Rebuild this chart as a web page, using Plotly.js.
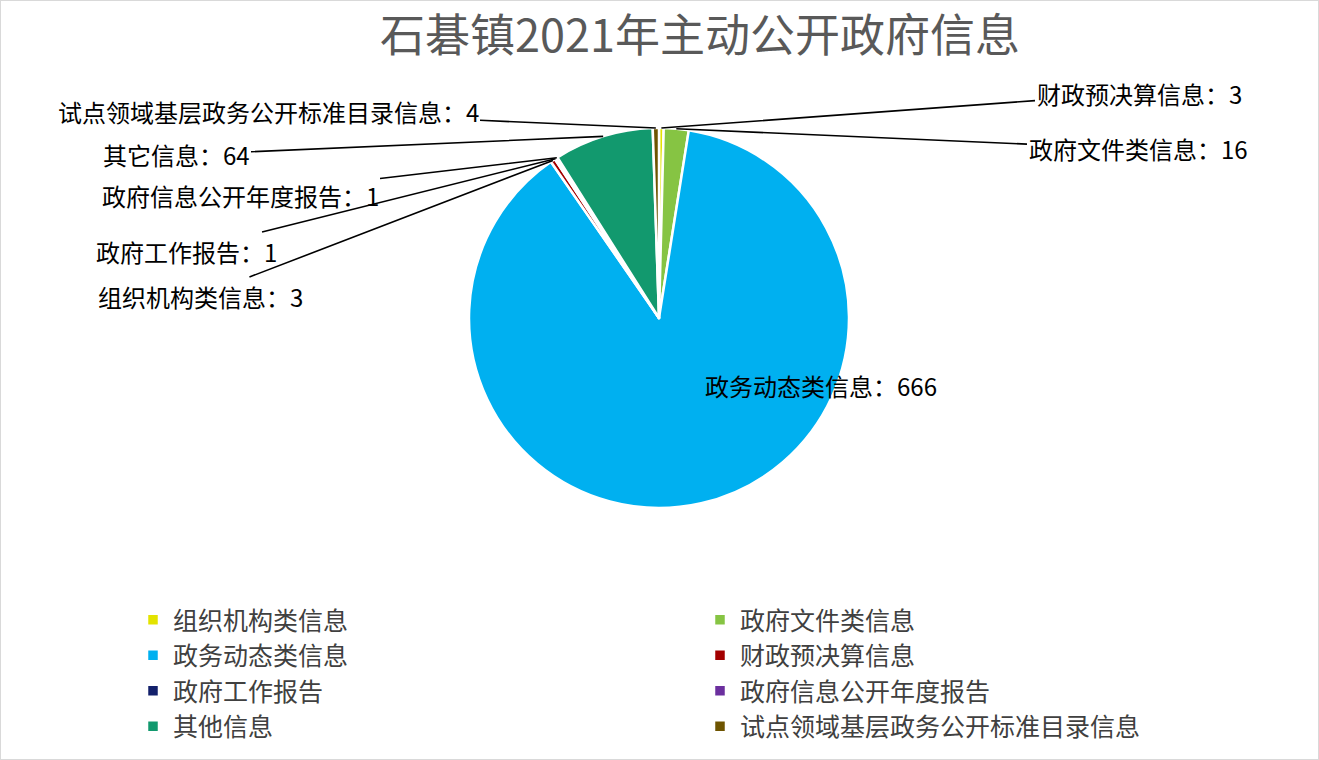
<!DOCTYPE html>
<html>
<head>
<meta charset="utf-8">
<script src="https://cdn.plot.ly/plotly-3.0.1.min.js"></script>
<style>
  html, body { margin: 0; padding: 0; background: #fff; }
  #chart_area { width: 1319px; height: 760px; }
</style>
</head>
<body>
<div id="chart_area"></div>
<script>
// slice data, in the order the pie is drawn (clockwise from 12 o'clock)
var categories = ['组织机构类信息', '政府文件类信息', '政务动态类信息', '财政预决算信息',
                  '政府工作报告', '政府信息公开年度报告', '其他信息', '试点领域基层政务公开标准目录信息'];
var counts = [3, 16, 666, 3, 1, 1, 64, 4];
// data label text as it stands on the chart, one per slice
var labelNames = ['财政预决算信息', '政府文件类信息', '政务动态类信息', '组织机构类信息',
                  '政府工作报告', '政府信息公开年度报告', '其它信息', '试点领域基层政务公开标准目录信息'];
var sliceColors = ['#e3e300', '#86c443', '#00b0f0', '#a30000', '#13206b', '#6b2f9e', '#12996e', '#6e5400'];

var W = 1319, H = 760;
var cx = 659, cy = 318, r = 190;

// where each label text sits (pixels)
var labelPos = [[1139, 93], [1138, 149], [821, 385], [200, 296], [186, 251], [240, 195], [176, 155], [268, 111]];

var total = counts.reduce(function (a, b) { return a + b; }, 0);
var annotations = [];
var cum = 0;
for (var i = 0; i < counts.length; i++) {
  var mid = (cum + counts[i] / 2) / total;
  cum += counts[i];
  var th = 2 * Math.PI * mid;
  var tx = cx + r * Math.sin(th), ty = cy - r * Math.cos(th);
  var txt = labelNames[i] + '：' + counts[i];
  var inside = counts[i] / total > 0.5;
  if (inside) {
    annotations.push({
      xref: 'paper', yref: 'paper', x: labelPos[i][0] / W, y: 1 - labelPos[i][1] / H,
      text: txt, showarrow: false, font: { size: 24, color: '#000' }
    });
  } else {
    annotations.push({
      xref: 'paper', yref: 'paper', x: tx / W, y: 1 - ty / H,
      ax: labelPos[i][0] - tx, ay: labelPos[i][1] - ty,
      text: txt, showarrow: true, arrowhead: 0, arrowwidth: 1.6, arrowcolor: '#000',
      font: { size: 24, color: '#000' }
    });
  }
}

var trace0 = {
  type: 'pie',
  labels: categories,
  values: counts,
  sort: false,
  direction: 'clockwise',
  rotation: 0,
  textinfo: 'none',
  hoverinfo: 'label+value',
  marker: { colors: sliceColors, line: { color: '#ffffff', width: 2.5 } },
  domain: { x: [(cx - r) / W, (cx + r) / W], y: [1 - (cy + r) / H, 1 - (cy - r) / H] }
};

var layout = {
  width: W, height: H,
  margin: { l: 0, r: 0, t: 0, b: 0 },
  paper_bgcolor: '#ffffff',
  font: { family: '"Noto Sans CJK SC", sans-serif', color: '#000' },
  title: {
    text: '石碁镇2021年主动公开政府信息',
    x: 700 / W, xanchor: 'center', y: 1 - 36 / H, yanchor: 'middle',
    font: { size: 45, color: '#595959' }
  },
  showlegend: true,
  legend: {
    orientation: 'h',
    x: 133 / W, xanchor: 'left',
    y: 1 - 597 / H, yanchor: 'top',
    entrywidth: 522, entrywidthmode: 'pixels',
    traceorder: 'normal',
    font: { size: 25, color: '#404040' }
  },
  annotations: annotations,
  shapes: [{
    type: 'rect', xref: 'paper', yref: 'paper', x0: 0, x1: 1, y0: 0, y1: 1,
    line: { color: '#d9d9d9', width: 2 }
  }]
};

var config = { responsive: false, displayModeBar: false };

Plotly.newPlot('chart_area', [trace0], layout, config);
</script>
</body>
</html>
